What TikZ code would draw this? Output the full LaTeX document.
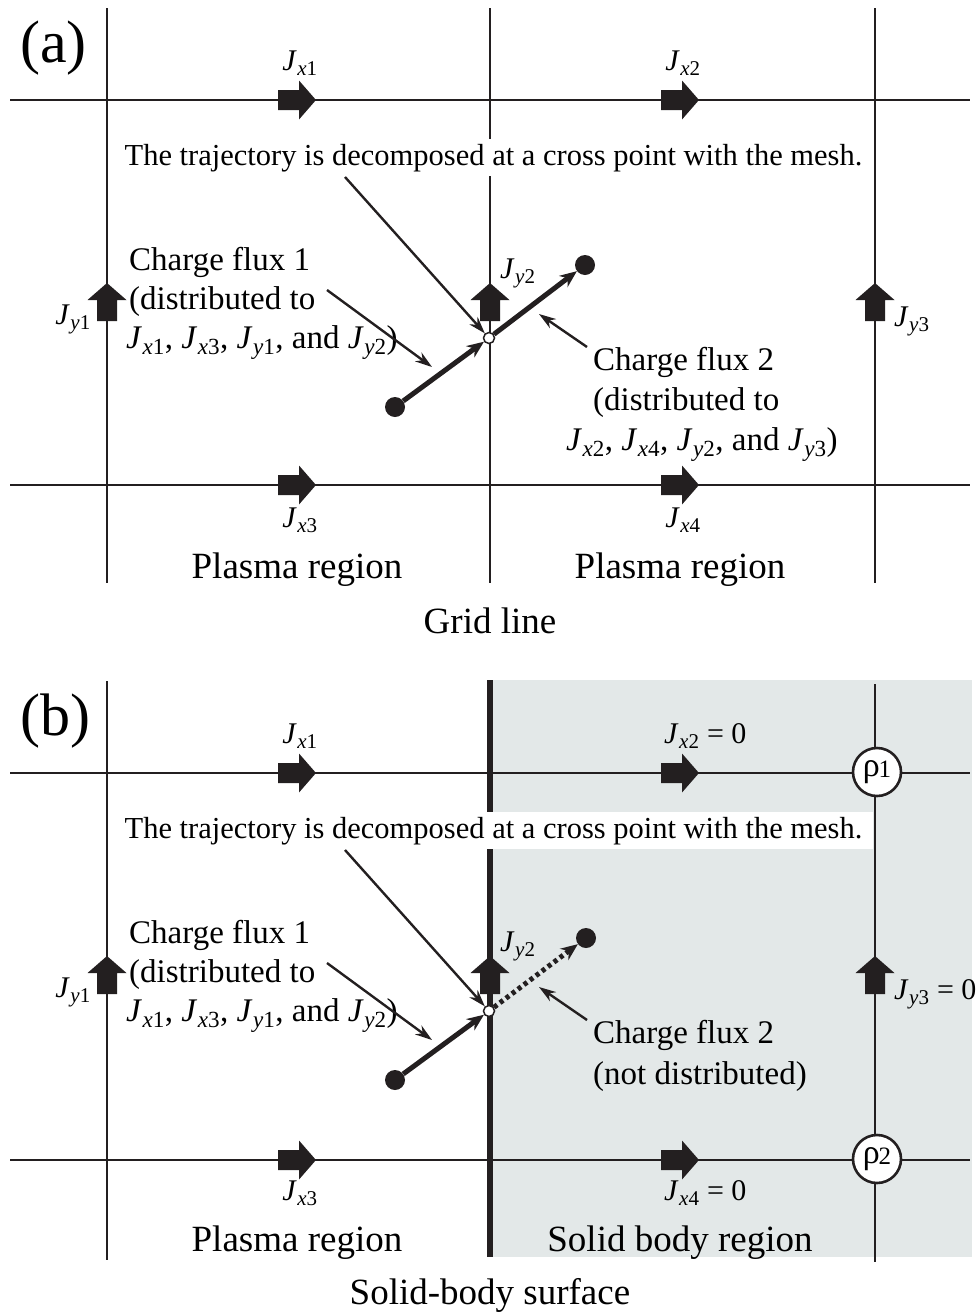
\documentclass[tikz,border=0pt]{standalone}
\usepackage{fontspec}
\setmainfont{Liberation Serif}
\usetikzlibrary{arrows.meta}
\definecolor{ink}{HTML}{231F20}
\definecolor{solidgrey}{HTML}{E3E8E8}
\newcommand\Jt[2]{\textit{J}\kern0.5pt\textsubscript{\textit{#1}#2}}
\newcommand\rhol[1]{{\fontsize{34}{36}\selectfont ρ\kern-1pt\raisebox{-1pt}{\fontsize{25}{26}\selectfont #1}}}
\begin{document}
\begin{tikzpicture}[x=1pt,y=-1pt,
  gridl/.style={line width=2.6pt, draw=ink},
  surf/.style={line width=5.5pt, draw=ink},
  blk/.pic={\fill[ink] (-20,-10) -- (1,-10) -- (1,-19.5) -- (18,0) -- (1,19.5) -- (1,10) -- (-20,10) -- cycle;},
  jlab/.style={font=\fontsize{30}{34}\selectfont, inner sep=0},
  txt/.style={font=\fontsize{33}{40}\selectfont, inner sep=0, anchor=base west},
  big/.style={font=\fontsize{37}{44}\selectfont, inner sep=0, anchor=base},
  panel/.style={font=\fontsize{60}{64}\selectfont, inner sep=0, anchor=base west},
  trajtxt/.style={font=\fontsize{30.5}{36}\selectfont, fill=white, inner xsep=11pt, inner ysep=4pt, text height=22pt, text depth=7pt, anchor=base},
  traj/.style={line width=5pt, draw=ink, -{Stealth[length=17pt,width=14pt]}},
  callout/.style={line width=2.4pt, draw=ink, -{Stealth[length=17pt,width=11pt]}},
  dot/.style={circle, fill=ink, minimum size=20pt, inner sep=0},
  crossp/.style={circle, draw=ink, fill=white, line width=1.5pt, minimum size=11pt, inner sep=0},
  rho/.style={circle, draw=ink, fill=white, line width=2.6pt, minimum size=48pt, inner sep=0}
]
\useasboundingbox (0,0) rectangle (979,1312);

% ---------------- panel (a) ----------------
\draw[gridl] (10,100) -- (970,100);
\draw[gridl] (10,485) -- (970,485);
\draw[gridl] (107,8) -- (107,583);
\draw[gridl] (490,8) -- (490,583);
\draw[gridl] (875,8) -- (875,583);

\node[trajtxt] (ta) at (493.5,165) {The trajectory is decomposed at a cross point with the mesh.};

\pic at (298,100) {blk};
\pic at (681,100) {blk};
\pic at (298,485) {blk};
\pic at (681,485) {blk};
\pic[rotate=90] at (107,301) {blk};
\pic[rotate=90] at (490,301) {blk};
\pic[rotate=90] at (875,301) {blk};

\node[panel] (pa) at (20,62) {(a)};
\node[jlab, anchor=base] (jx1a) at (300,70) {\Jt{x}{1}};
\node[jlab, anchor=base] (jx2a) at (683,70) {\Jt{x}{2}};
\node[jlab, anchor=base] (jx3a) at (300,527) {\Jt{x}{3}};
\node[jlab, anchor=base] (jx4a) at (683,527) {\Jt{x}{4}};
\node[jlab, anchor=base east] (jy1a) at (91,324) {\Jt{y}{1}};
\node[jlab, anchor=base west] (jy2a) at (500,278) {\Jt{y}{2}};
\node[jlab, anchor=base west] (jy3a) at (894,326) {\Jt{y}{3}};

\node[dot] (sa) at (395,407) {};
\node[dot] (ea) at (585,265) {};
\node[crossp] (xa) at (489,338) {};
\draw[traj] (sa) -- (xa);
\draw[traj] (xa) -- (ea);

\node[txt] (f1a1) at (129,270) {Charge flux 1};
\node[txt] (f1a2) at (129,309) {(distributed to};
\node[txt] (f1a3) at (126,348) {\Jt{x}{1}, \Jt{x}{3}, \Jt{y}{1}, and \Jt{y}{2})};
\node[txt] (f2a1) at (593,370) {Charge flux 2};
\node[txt] (f2a2) at (593,410) {(distributed to};
\node[txt] (f2a3) at (566,450) {\Jt{x}{2}, \Jt{x}{4}, \Jt{y}{2}, and \Jt{y}{3})};

\coordinate (c1a) at (345,177);
\coordinate (c2a) at (327,290);
\coordinate (m2a) at (432,367);
\coordinate (c3a) at (587,347);
\coordinate (m3a) at (539,314);
\draw[callout] (c1a) -- (xa);
\draw[callout] (c2a) -- (m2a);
\draw[callout] (c3a) -- (m3a);

\node[big] (pr1a) at (297,578) {Plasma region};
\node[big] (pr2a) at (680,578) {Plasma region};
\node[big] (gla) at (490,633) {Grid line};

% ---------------- panel (b) ----------------
\fill[solidgrey] (492,680) rectangle (972,1257);
\draw[gridl] (10,773) -- (970,773);
\draw[gridl] (10,1160) -- (970,1160);
\draw[gridl] (107,681) -- (107,1260);
\draw[gridl] (875,684) -- (875,1262);
\draw[surf] (490,680) -- (490,1257);

\node[trajtxt] (tb) at (493.5,838) {The trajectory is decomposed at a cross point with the mesh.};

\pic at (298,773) {blk};
\pic at (681,773) {blk};
\pic at (298,1160) {blk};
\pic at (681,1160) {blk};
\pic[rotate=90] at (107,974) {blk};
\pic[rotate=90] at (490,974) {blk};
\pic[rotate=90] at (875,974) {blk};

\node[rho] (r1) at (877,772) {\rhol{1}};
\node[rho] (r2) at (877,1159) {\rhol{2}};

\node[panel] (pb) at (20,735) {(b)};
\node[jlab, anchor=base] (jx1b) at (300,743) {\Jt{x}{1}};
\node[jlab, anchor=base west] (jx2b) at (664,743) {\Jt{x}{2} = 0};
\node[jlab, anchor=base] (jx3b) at (300,1200) {\Jt{x}{3}};
\node[jlab, anchor=base west] (jx4b) at (664,1200) {\Jt{x}{4} = 0};
\node[jlab, anchor=base east] (jy1b) at (91,997) {\Jt{y}{1}};
\node[jlab, anchor=base west] (jy2b) at (500,951) {\Jt{y}{2}};
\node[jlab, anchor=base west] (jy3b) at (894,999) {\Jt{y}{3} = 0};

\node[dot] (sb) at (395,1080) {};
\node[dot] (eb) at (586,938) {};
\node[crossp] (xb) at (489,1011) {};
\draw[traj] (sb) -- (xb);
\draw[traj, dash pattern=on 4pt off 3.5pt] (xb) -- (eb);

\node[txt] (f1b1) at (129,943) {Charge flux 1};
\node[txt] (f1b2) at (129,982) {(distributed to};
\node[txt] (f1b3) at (126,1021) {\Jt{x}{1}, \Jt{x}{3}, \Jt{y}{1}, and \Jt{y}{2})};
\node[txt] (f2b1) at (593,1043) {Charge flux 2};
\node[txt] (f2b2) at (593,1084) {(not distributed)};

\coordinate (c1b) at (345,850);
\coordinate (c2b) at (327,963);
\coordinate (m2b) at (432,1040);
\coordinate (c3b) at (587,1020);
\coordinate (m3b) at (539,987);
\draw[callout] (c1b) -- (xb);
\draw[callout] (c2b) -- (m2b);
\draw[callout] (c3b) -- (m3b);

\node[big] (prb) at (297,1251) {Plasma region};
\node[big] (sbr) at (680,1251) {Solid body region};
\node[big] (sbs) at (490,1304) {Solid-body surface};
\end{tikzpicture}
\end{document}
